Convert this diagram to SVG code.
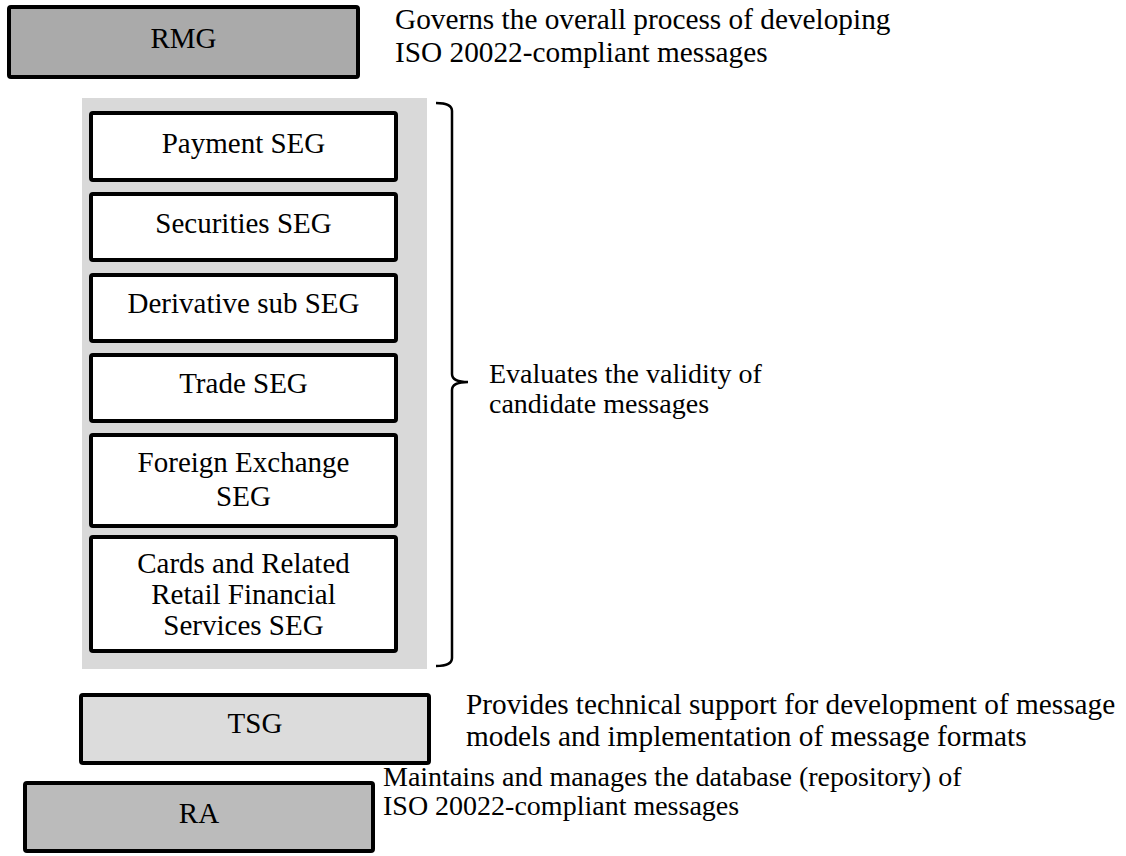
<svg xmlns="http://www.w3.org/2000/svg" width="1126" height="856" viewBox="0 0 1126 856">
<style>
.box{stroke:#000;stroke-width:4;}
.lbl{font-family:"Liberation Serif","Times New Roman",serif;font-size:29px;fill:#000;text-anchor:middle;}
.desc{font-family:"Liberation Serif","Times New Roman",serif;font-size:28px;fill:#000;}
.descL{font-family:"Liberation Serif","Times New Roman",serif;font-size:29.3px;fill:#000;}
.br{fill:none;stroke:#000;stroke-width:2.5;}
</style>
<rect width="1126" height="856" fill="#fff"/>
<g id="rmg">
<rect class="box" x="9" y="7" width="349" height="70" rx="2" fill="#aaaaaa"/>
<text class="lbl" x="183.5" y="48">RMG</text>
</g>
<g id="rmg-desc">
<text class="descL" x="395" y="29">Governs the overall process of developing</text>
<text class="descL" x="395" y="62">ISO 20022-compliant messages</text>
</g>
<g id="seg-panel">
<rect x="82" y="98" width="345" height="571" fill="#d9d9d9"/>
</g>
<g id="payment-seg">
<rect class="box" x="91" y="113" width="305" height="67" rx="2" fill="#fff"/>
<text class="lbl" x="243.5" y="153">Payment SEG</text>
</g>
<g id="securities-seg">
<rect class="box" x="91" y="194" width="305" height="66" rx="2" fill="#fff"/>
<text class="lbl" x="243.5" y="233">Securities SEG</text>
</g>
<g id="derivative-sub-seg">
<rect class="box" x="91" y="275" width="305" height="66" rx="2" fill="#fff"/>
<text class="lbl" x="243.5" y="313">Derivative sub SEG</text>
</g>
<g id="trade-seg">
<rect class="box" x="91" y="355" width="305" height="66" rx="2" fill="#fff"/>
<text class="lbl" x="243.5" y="393">Trade SEG</text>
</g>
<g id="fx-seg">
<rect class="box" x="91" y="435" width="305" height="91" rx="2" fill="#fff"/>
<text class="lbl" x="243.5" y="472">Foreign Exchange</text>
<text class="lbl" x="243.5" y="506">SEG</text>
</g>
<g id="cards-seg">
<rect class="box" x="91" y="537" width="305" height="114" rx="2" fill="#fff"/>
<text class="lbl" x="243.5" y="573">Cards and Related</text>
<text class="lbl" x="243.5" y="604">Retail Financial</text>
<text class="lbl" x="243.5" y="635">Services SEG</text>
</g>
<g id="connectors">
<path class="br" d="M436,103 Q452,103 452,111 L452,374 Q452,382 468,382 Q452,382 452,390 L452,658 Q452,666 436,666"/>
</g>
<g id="seg-desc">
<text class="desc" x="489" y="383">Evaluates the validity of</text>
<text class="desc" x="489" y="413">candidate messages</text>
</g>
<g id="tsg">
<rect class="box" x="81" y="695" width="348" height="68" rx="2" fill="#dcdcdc"/>
<text class="lbl" x="255" y="733">TSG</text>
</g>
<g id="tsg-desc">
<text class="descL" x="466" y="714">Provides technical support for development of message</text>
<text class="descL" x="466" y="746">models and implementation of message formats</text>
</g>
<g id="ra">
<rect class="box" x="25" y="783" width="348" height="68" rx="2" fill="#bbbbbb"/>
<text class="lbl" x="199" y="823">RA</text>
</g>
<g id="ra-desc">
<text class="desc" x="383" y="786">Maintains and manages the database (repository) of</text>
<text class="desc" x="383" y="815">ISO 20022-compliant messages</text>
</g>
</svg>
